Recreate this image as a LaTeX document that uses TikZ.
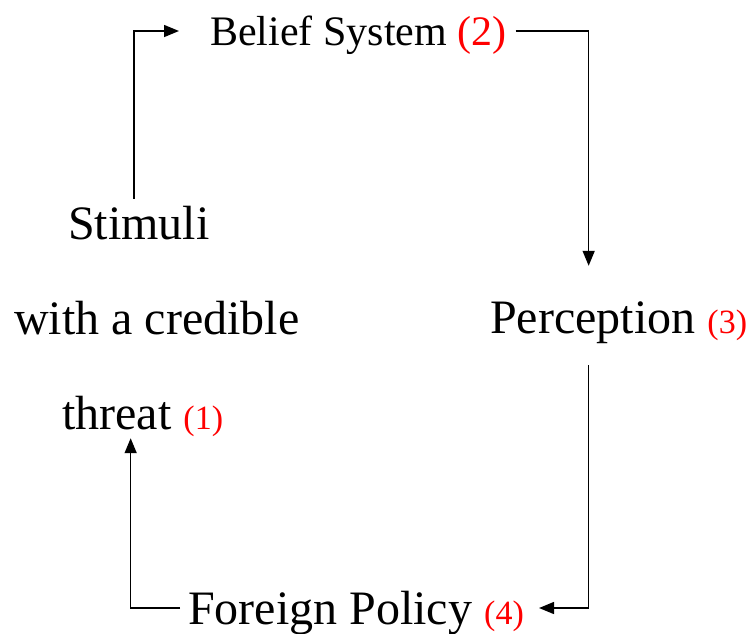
\documentclass[tikz,border=0pt]{standalone}
\usepackage{fontspec}
\setmainfont{Liberation Serif}
\usetikzlibrary{positioning, arrows.meta}

\newcommand{\stepno}[1]{{\fontsize{34}{36}\selectfont\color{red}(#1)}}

\begin{document}
\begin{tikzpicture}[x=1pt, y=-1pt,
  lbl/.style={inner sep=0pt, anchor=west, text height=32pt, text depth=0pt,
    font=\fontsize{48}{50}\selectfont},
  flow/.style={line width=1.5pt, -{Triangle[length=15pt, width=12pt]}}]
  \useasboundingbox (0,0) rectangle (752,633);
  \node[lbl, text height=28pt, font=\fontsize{42}{44}\selectfont] (belief) at (210,31)
    {Belief System \textcolor{red}{(2)}};
  \node[lbl] (stim1) at (68,223) {Stimuli};
  \node[lbl] (stim2) at (14,318) {with a credible};
  \node[lbl] (stim3) at (62,413) {threat \stepno{1}};
  \node[lbl] (percep) at (490,317) {Perception \stepno{3}};
  \node[lbl] (policy) at (188,608) {Foreign Policy \stepno{4}};
  % the loop
  \draw[flow, shorten <=8pt, shorten >=31pt] ([xshift=-5pt]stim1.north) |- (belief.west);
  \draw[flow, shorten <=9pt, shorten >=35pt] (belief.east) -| ([xshift=-30pt]percep.north);
  \draw[flow, shorten <=32pt, shorten >=15pt] ([xshift=-30pt]percep.south) |- (policy.east);
  \draw[flow, shorten <=8pt, shorten >=9pt] (policy.west) -| ([xshift=-12pt]stim3.south);
\end{tikzpicture}
\end{document}
